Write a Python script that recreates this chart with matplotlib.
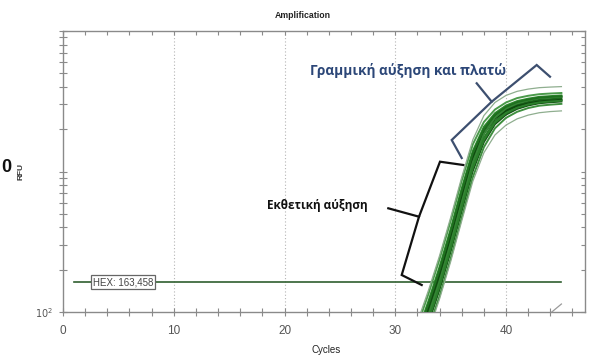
import matplotlib
matplotlib.use("Agg")
import matplotlib.pyplot as plt
from matplotlib.lines import Line2D
from matplotlib.ticker import FixedLocator, NullFormatter, FixedFormatter, LogLocator

# ---------------- data ----------------
cycles = [31, 32, 33, 34, 35, 36, 37, 38, 39, 40, 41, 42, 43, 44, 45]

well_a = [35, 60, 100, 174, 324, 631, 1202, 1862, 2399, 2754, 2985, 3126, 3236, 3273, 3311]
well_b = [42, 71, 120, 210, 390, 760, 1400, 2080, 2600, 2950, 3170, 3300, 3400, 3440, 3480]
well_c = [29, 50, 84, 145, 270, 525, 1010, 1620, 2170, 2540, 2790, 2950, 3060, 3110, 3150]
well_d = [48, 80, 135, 238, 445, 860, 1560, 2250, 2760, 3100, 3330, 3460, 3550, 3590, 3620]
well_e = [26, 45, 76, 130, 240, 470, 910, 1490, 2030, 2410, 2660, 2830, 2940, 2990, 3030]
well_f = [38, 65, 110, 190, 355, 695, 1300, 1970, 2500, 2850, 3080, 3210, 3320, 3360, 3390]
well_g = [32, 55, 92, 160, 297, 580, 1110, 1740, 2290, 2650, 2890, 3040, 3150, 3190, 3230]
well_h = [37, 63, 107, 185, 345, 670, 1250, 1880, 2380, 2710, 2930, 3060, 3160, 3200, 3240]
well_i = [33, 57, 95, 165, 308, 600, 1160, 1850, 2420, 2810, 3060, 3220, 3330, 3370, 3410]
well_j = [40, 68, 114, 200, 372, 725, 1350, 2010, 2540, 2890, 3120, 3250, 3360, 3400, 3440]
well_k = [30, 52, 88, 152, 283, 552, 1060, 1680, 2230, 2600, 2840, 3000, 3100, 3150, 3190]
well_upper = [50, 85, 143, 252, 470, 910, 1680, 2500, 3100, 3480, 3720, 3860, 3950, 3990, 4020]
well_lower = [25, 43, 72, 124, 228, 445, 850, 1360, 1820, 2140, 2370, 2520, 2620, 2670, 2700]

late_cycles = [43, 44, 45]
late_well = [80, 98, 114]

threshold_value = 163.458
threshold_cycles = [1, 45]
threshold_label = "HEX: 163,458"

x_ticks_major = [0, 10, 20, 30, 40]
x_ticks_minor = list(range(0, 48, 2))

# ---------------- figure ----------------
W, H = 590, 356
fig = plt.figure(figsize=(W / 100, H / 100), dpi=100)
ax = fig.add_axes([63 / W, 1 - 312 / H, (585 - 63) / W, (312 - 31) / H])

ax.set_yscale("log")
ax.set_xlim(0, 47.13)
ax.set_ylim(100, 10000)

spine_col = "#8a8a8a"
for s in ax.spines.values():
    s.set_color(spine_col)
    s.set_linewidth(1.0)

# vertical dotted grid
for gx in [10, 20, 30, 40]:
    ax.axvline(gx, color="#b5b5b5", lw=0.8, ls=(0, (1, 2)), zorder=0)

# threshold
ax.plot(threshold_cycles, [threshold_value, threshold_value], color="#2f5f2f", lw=1.2, zorder=2)
ax.text(5.45, threshold_value, threshold_label, fontsize=7, color="#444444",
        family="Liberation Sans", ha="center", va="center", zorder=5,
        bbox=dict(boxstyle="square,pad=0.18", fc="white", ec="#666666", lw=0.9))

# amplification curves
core = [well_a, well_b, well_c, well_d, well_e, well_f, well_g, well_h, well_i, well_j, well_k]
cols = ["#1d6b1d", "#2e8a2e", "#145214", "#4a9a4a", "#3f8f3f", "#1a5e1a",
        "#2a7a2a", "#0f4a0f", "#358535", "#1f701f", "#2b7f2b"]
for w, c in zip(core, cols):
    ax.plot(cycles, w, color=c, lw=1.4, zorder=3)
ax.plot(cycles, well_upper, color="#8fae8f", lw=0.9, zorder=3)
ax.plot(cycles, well_lower, color="#8fae8f", lw=0.9, zorder=3)
ax.plot(late_cycles, late_well, color="#9a9a9a", lw=0.9, zorder=3)

# ticks
ax.xaxis.set_major_locator(FixedLocator(x_ticks_major))
ax.xaxis.set_minor_locator(FixedLocator(x_ticks_minor))
ax.yaxis.set_major_locator(FixedLocator([100, 1000, 10000]))
ax.yaxis.set_major_formatter(FixedFormatter([r"$10^2$", "", ""]))
ax.yaxis.set_minor_locator(LogLocator(base=10, subs=range(2, 10)))
ax.yaxis.set_minor_formatter(NullFormatter())
ax.tick_params(which="both", direction="inout", length=6, width=0.8, color=spine_col,
               top=False, right=False)
ax.tick_params(axis="x", labelsize=8.5, labelcolor="#555555", pad=6)
ax.tick_params(axis="y", labelsize=7, labelcolor="#555555", pad=4)
for lab in ax.get_xticklabels() + ax.get_yticklabels():
    lab.set_family("Liberation Sans")

secx = ax.secondary_xaxis("top")
secx.xaxis.set_major_locator(FixedLocator(x_ticks_minor))
secx.tick_params(direction="in", length=3, width=0.8, color=spine_col, labeltop=False)
secx.spines["top"].set_visible(False)
secy = ax.secondary_yaxis("right")
secy.yaxis.set_major_locator(FixedLocator([100, 1000, 10000]))
secy.yaxis.set_minor_locator(LogLocator(base=10, subs=range(2, 10)))
secy.tick_params(which="both", direction="in", length=3, width=0.8, color=spine_col,
                 labelright=False)
secy.spines["right"].set_visible(False)

# labels
def ftxt(x, y, s, **kw):
    fig.text(x / W, 1 - y / H, s, **kw)

ftxt(303, 15, "Amplification", fontsize=6.3, fontweight="bold", family="Liberation Sans",
     ha="center", va="center", color="#222222")
ftxt(326, 350, "Cycles", fontsize=7, family="Liberation Sans", ha="center", va="center",
     color="#222222")
ftxt(21, 171, "RFU", fontsize=6, fontweight="bold", family="Liberation Sans", rotation=90,
     ha="center", va="center", color="#333333")
ftxt(1, 167, "0", fontsize=13, fontweight="bold", family="Liberation Sans",
     ha="left", va="center", color="#111111")

ftxt(408, 70, "Γραμμική αύξηση και πλατώ", fontsize=9.8, fontweight="bold",
     family="Open Sans", ha="center", va="center", color="#2c4778")
ftxt(317, 205, "Εκθετική αύξηση", fontsize=8.5, fontweight="bold",
     family="Open Sans", ha="center", va="center", color="#111111")

# brackets (figure pixel coordinates)
def poly(pts, color):
    xs = [p[0] / W for p in pts]
    ys = [1 - p[1] / H for p in pts]
    fig.add_artist(Line2D(xs, ys, transform=fig.transFigure, color=color, lw=1.6,
                          solid_joinstyle="miter"))

blue = "#3d4f6f"
poly([(461.7, 158), (451.7, 140), (491.7, 101.7), (536.7, 65), (550, 76.7)], blue)
poly([(491.7, 101.7), (476.7, 83.3)], blue)
poly([(463.3, 165), (440, 161.7), (419, 216.7), (401.7, 275), (421.7, 285)], "#111111")
poly([(419, 216.7), (388.3, 208.3)], "#111111")

fig.savefig("out.png", dpi=100, facecolor="white")
